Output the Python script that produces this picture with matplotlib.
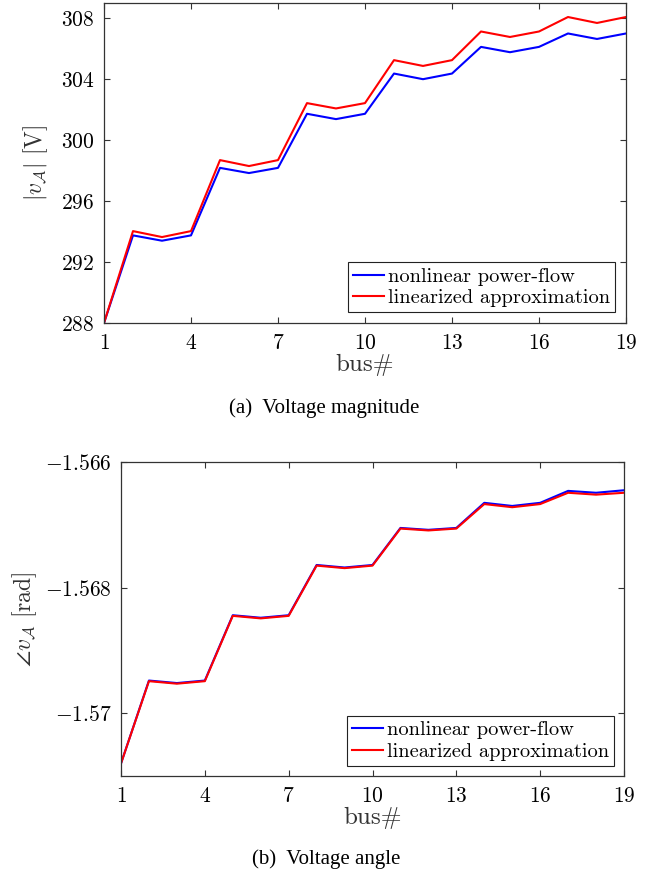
import matplotlib
matplotlib.use("Agg")
import matplotlib.pyplot as plt
from matplotlib.ticker import FixedLocator, FuncFormatter

# ---------------- data ----------------
bus = list(range(1, 20))
vmag_nonlinear = [288.0, 293.75, 293.4, 293.75, 298.18, 297.84, 298.18, 301.73, 301.38, 301.73,
                  304.37, 304.0, 304.37, 306.12, 305.77, 306.12, 307.0, 306.64, 307.0]
vmag_linear = [288.0, 294.03, 293.64, 294.03, 298.69, 298.3, 298.69, 302.43, 302.08, 302.43,
               305.25, 304.87, 305.25, 307.13, 306.77, 307.13, 308.08, 307.69, 308.08]
vang_nonlinear = [-1.5708, -1.56948, -1.56952, -1.56948, -1.56844, -1.56848, -1.56844, -1.56764,
                  -1.56768, -1.56764, -1.56705, -1.56708, -1.56705, -1.56665, -1.56670, -1.56665,
                  -1.56646, -1.56649, -1.56645]
vang_linear = [-1.5708, -1.56949, -1.56953, -1.56949, -1.56845, -1.56849, -1.56845, -1.56765,
               -1.56769, -1.56765, -1.56706, -1.56709, -1.56706, -1.56667, -1.56672, -1.56667,
               -1.56649, -1.56652, -1.56649]
xticks = [1, 4, 7, 10, 13, 16, 19]
yticks_mag = [288, 292, 296, 300, 304, 308]
yticks_ang = [-1.57, -1.568, -1.566]
labels = ["nonlinear power-flow", "linearized approximation"]
captions = ["(a)  Voltage magnitude", "(b)  Voltage angle"]

plt.rcParams['mathtext.fontset'] = 'cm'
FS = 15.5
SPINE = '#333333'

fig = plt.figure(figsize=(6.54, 8.75), dpi=100)
ax1 = fig.add_axes([104/654, 1-323/875, 522/654, 320/875])
ax2 = fig.add_axes([121/654, 1-776/875, 503/654, 314/875])

fmt = FuncFormatter(lambda v, p: r'$%g$' % v)

def style(ax, yt, ylim, ylabel, ynudge):
    ax.set_xlim(1, 19)
    ax.set_ylim(*ylim)
    ax.xaxis.set_major_locator(FixedLocator(xticks))
    ax.yaxis.set_major_locator(FixedLocator(yt))
    ax.xaxis.set_major_formatter(fmt)
    ax.yaxis.set_major_formatter(fmt)
    ax.tick_params(direction='in', length=4, width=0.8, colors=SPINE, labelcolor='black',
                   labelsize=FS, top=True, right=True)
    ax.tick_params(axis='y', pad=7)
    ax.tick_params(axis='x', pad=7)
    for s in ax.spines.values():
        s.set_color(SPINE)
        s.set_linewidth(0.9)
    ax.set_xlabel('bus#', family='cmr10', fontsize=FS + 2.5, color='#333333', labelpad=1)
    ax.set_ylabel(ylabel, fontsize=FS + 1.5, color='#333333', labelpad=ynudge)

style(ax1, yticks_mag, (288, 309), r'$|v_{\mathcal{A}}|\ [\mathrm{V}]$', 8)
style(ax2, yticks_ang, (-1.571, -1.566), r'$\angle v_{\mathcal{A}}\ [\mathrm{rad}]$', 4)

for ax, yn, yl, anchor in [(ax1, vmag_nonlinear, vmag_linear, (0.979, 0.034)),
                           (ax2, vang_nonlinear, vang_linear, (0.980, 0.032))]:
    ax.plot(bus, yn, color='#0000ff', lw=1.5, label=labels[0])
    ax.plot(bus, yl, color='#ff0000', lw=1.5, label=labels[1])
    leg = ax.legend(loc='lower right', bbox_to_anchor=anchor, borderaxespad=0,
                    prop={'family': 'cmr10', 'size': FS - 0.8}, fancybox=False, framealpha=1,
                    edgecolor='#222222', handlelength=1.5, handletextpad=0.2,
                    borderpad=0.25, labelspacing=0.15)
    leg.get_frame().set_linewidth(0.8)

fig.text(0.496, 1-408/875, captions[0], ha='center', va='center',
         family='Liberation Serif', fontsize=15)
fig.text(0.498, 1-859/875, captions[1], ha='center', va='center',
         family='Liberation Serif', fontsize=15)

fig.savefig('out.png', dpi=100)
